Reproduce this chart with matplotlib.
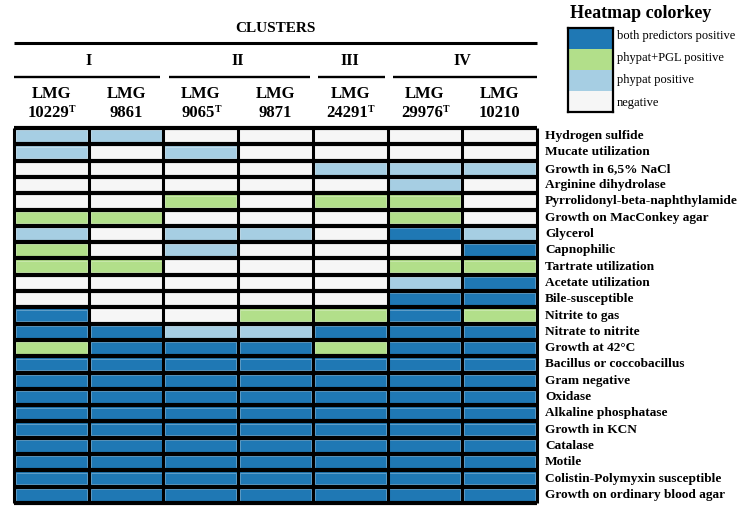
import numpy as np
import matplotlib
matplotlib.use("Agg")
import matplotlib.pyplot as plt
from matplotlib.colors import ListedColormap, BoundaryNorm

plt.rcParams.update({"font.family": "Liberation Serif"})

traits = [
    "Hydrogen sulfide", "Mucate utilization", "Growth in 6,5% NaCl",
    "Arginine dihydrolase", "Pyrrolidonyl-beta-naphthylamide",
    "Growth on MacConkey agar", "Glycerol", "Capnophilic",
    "Tartrate utilization", "Acetate utilization", "Bile-susceptible",
    "Nitrite to gas", "Nitrate to nitrite", "Growth at 42°C",
    "Bacillus or coccobacillus", "Gram negative", "Oxidase",
    "Alkaline phosphatase", "Growth in KCN", "Catalase", "Motile",
    "Colistin-Polymyxin susceptible", "Growth on ordinary blood agar",
]
strain_ids = ["10229", "9861", "9065", "9871", "24291", "29976", "10210"]
type_strain = [True, False, True, False, True, True, False]
clusters = ["I", "II", "III", "IV"]
cluster_sizes = [2, 2, 1, 2]
key_labels = ["both predictors positive", "phypat+PGL positive",
              "phypat positive", "negative"]
key_colors = ["#1f78b4", "#b2df8a", "#a6cee3", "#f6f6f6"]

# 0 = negative, 1 = phypat positive, 2 = phypat+PGL positive, 3 = both
calls = np.array([
    [1, 1, 0, 0, 0, 0, 0],
    [1, 0, 1, 0, 0, 0, 0],
    [0, 0, 0, 0, 1, 1, 1],
    [0, 0, 0, 0, 0, 1, 0],
    [0, 0, 2, 0, 2, 2, 0],
    [2, 2, 0, 0, 0, 2, 0],
    [1, 0, 1, 1, 0, 3, 1],
    [2, 0, 1, 0, 0, 0, 3],
    [2, 2, 0, 0, 0, 2, 2],
    [0, 0, 0, 0, 0, 1, 3],
    [0, 0, 0, 0, 0, 3, 3],
    [3, 0, 0, 2, 2, 3, 2],
    [3, 3, 1, 1, 3, 3, 3],
    [2, 3, 3, 3, 2, 3, 3],
    [3, 3, 3, 3, 3, 3, 3],
    [3, 3, 3, 3, 3, 3, 3],
    [3, 3, 3, 3, 3, 3, 3],
    [3, 3, 3, 3, 3, 3, 3],
    [3, 3, 3, 3, 3, 3, 3],
    [3, 3, 3, 3, 3, 3, 3],
    [3, 3, 3, 3, 3, 3, 3],
    [3, 3, 3, 3, 3, 3, 3],
    [3, 3, 3, 3, 3, 3, 3],
])

W, H = 743, 507
fig = plt.figure(figsize=(W / 100, H / 100), dpi=100)

# heatmap axes in pixel layout
gx0, gx1, gy0, gy1 = 14, 537, 128, 503
ax = fig.add_axes([gx0 / W, 1 - gy1 / H, (gx1 - gx0) / W, (gy1 - gy0) / H])
n_rows, n_cols = calls.shape
cmap = ListedColormap(key_colors[::-1])
norm = BoundaryNorm(np.arange(-0.5, 4.5), cmap.N)
ax.pcolormesh(np.arange(n_cols + 1), np.arange(n_rows + 1), calls,
              cmap=cmap, norm=norm)
# thin light rim just inside the black border of each cell
for i in range(n_rows):
    for j in range(n_cols):
        ax.add_patch(plt.Rectangle((j + 0.025, i + 0.145), 0.95, 0.71,
                                   fill=False, ec="white", lw=0.5, alpha=0.4))
# black grid: row borders are thicker than column borders
ax.hlines(np.arange(n_rows + 1), 0, n_cols, color="black", lw=3.0,
          clip_on=False)
ax.vlines(np.arange(n_cols + 1), 0, n_rows, color="black", lw=2.2,
          clip_on=False)
ax.set_xlim(0, n_cols)
ax.set_ylim(n_rows, 0)
ax.axis("off")

row_h = (gy1 - gy0) / n_rows
col_w = (gx1 - gx0) / n_cols


def ypix(y):
    return (y - gy0) / row_h


# row labels
for i, name in enumerate(traits):
    ax.text(n_cols + 8 / col_w, i + 0.5, name, ha="left", va="center",
            fontsize=9.6, fontweight="bold", clip_on=False)

# header
ax.text(3.5, ypix(28), "CLUSTERS", ha="center", va="center",
        fontsize=11, fontweight="bold", clip_on=False)
ax.plot([0, n_cols], [ypix(43)] * 2, color="black", lw=2.2,
        clip_on=False, solid_capstyle="butt")

start = 0
for k, (name, size) in enumerate(zip(clusters, cluster_sizes)):
    end = start + size
    x0 = start + (0.07 if k > 0 else 0)
    x1 = end - (0.04 if k < len(clusters) - 1 else 0)
    ax.plot([x0, x1], [ypix(77)] * 2, color="black", lw=1.7,
            clip_on=False, solid_capstyle="butt")
    ax.text((start + end) / 2, ypix(61), name, ha="center", va="center",
            fontsize=11.5, fontweight="bold", clip_on=False)
    start = end

for j, (sid, is_type) in enumerate(zip(strain_ids, type_strain)):
    ax.text(j + 0.5, ypix(94), "LMG", ha="center", va="center",
            fontsize=12, fontweight="bold", clip_on=False)
    num = ax.text(j + 0.5 - (0.04 if is_type else 0), ypix(113), sid,
                  ha="center", va="center", fontsize=12, fontweight="bold",
                  clip_on=False)
    if is_type:
        ax.annotate("T", xy=(1.0, 1.0), xycoords=num, ha="left", va="top",
                    fontsize=7, fontweight="bold", annotation_clip=False)

# colour key
kx0, kx1, ky0, ky1 = 568, 613, 28, 112
kax = fig.add_axes([kx0 / W, 1 - ky1 / H, (kx1 - kx0) / W, (ky1 - ky0) / H])
kax.imshow(np.arange(4).reshape(4, 1), cmap=ListedColormap(key_colors),
           aspect="auto", extent=(0, 1, 4, 0))
kax.set_xticks([])
kax.set_yticks([])
for sp in kax.spines.values():
    sp.set_linewidth(1.6)
for i, lab in enumerate(key_labels):
    kax.text(1.09, i + 0.4 + 0.05 * i, lab, ha="left", va="center",
             fontsize=9, clip_on=False)
fig.text(641 / W, 1 - 13 / H, "Heatmap colorkey", ha="center", va="center",
         fontsize=13, fontweight="bold")

fig.savefig("out.png", dpi=100)
